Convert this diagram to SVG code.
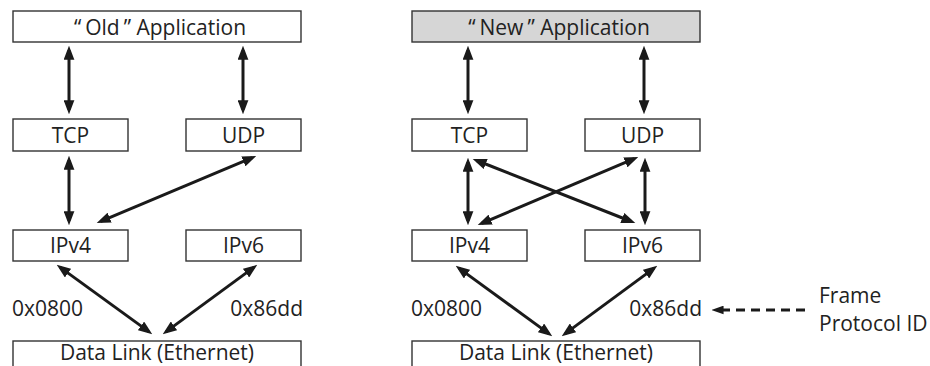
<svg xmlns="http://www.w3.org/2000/svg" width="930" height="366" viewBox="0 0 930 366">
<defs>
<style>
.box{fill:#fff;stroke:#333;stroke-width:1.4}
.gray{fill:#d6d6d6}
.t{font-family:"Open Sans","Liberation Sans",sans-serif;font-size:21px;fill:#222}
.c{text-anchor:middle}
.e{text-anchor:end}
.ln{stroke:#1a1a1a;stroke-width:3;fill:none;marker-start:url(#ah);marker-end:url(#ah)}
.dash{stroke:#1a1a1a;stroke-width:3;fill:none;stroke-dasharray:9 6;marker-end:url(#ah2)}
</style>
<marker id="ah" markerUnits="userSpaceOnUse" markerWidth="14" markerHeight="11" refX="9" refY="5" orient="auto-start-reverse" viewBox="0 0 13 10">
<path d="M0,0 L13,5 L0,10 z" fill="#1a1a1a"/>
</marker>
<marker id="ah2" markerUnits="userSpaceOnUse" markerWidth="12" markerHeight="9" refX="6" refY="4" orient="auto" viewBox="0 0 11 8">
<path d="M0,0 L11,4 L0,8 z" fill="#1a1a1a"/>
</marker>
</defs>
<rect width="930" height="366" fill="#fff"/>

<g id="old-app"><rect class="box" x="13" y="11" width="288" height="31"/><text class="t c" x="160" y="35">“<tspan dx="4">Old</tspan><tspan dx="4">”</tspan> Application</text></g>
<g id="old-tcp"><rect class="box" x="13" y="119" width="115" height="32"/><text class="t c" x="70.5" y="143">TCP</text></g>
<g id="old-udp"><rect class="box" x="186" y="119" width="115" height="32"/><text class="t c" x="243.5" y="143">UDP</text></g>
<g id="old-ipv4"><rect class="box" x="13" y="230" width="115" height="31"/><text class="t c" x="70.5" y="253">IPv4</text></g>
<g id="old-ipv6"><rect class="box" x="186" y="230" width="115" height="31"/><text class="t c" x="243.5" y="253">IPv6</text></g>
<g id="old-dl"><rect class="box" x="13" y="341" width="288" height="40"/><text class="t c" x="157" y="360">Data Link (Ethernet)</text></g>

<g id="new-app"><rect class="box gray" x="412" y="11" width="288" height="31"/><text class="t c" x="559" y="35">“<tspan dx="4">New</tspan><tspan dx="4">”</tspan> Application</text></g>
<g id="new-tcp"><rect class="box" x="412" y="119" width="115" height="32"/><text class="t c" x="469.5" y="143">TCP</text></g>
<g id="new-udp"><rect class="box" x="585" y="119" width="115" height="32"/><text class="t c" x="642.5" y="143">UDP</text></g>
<g id="new-ipv4"><rect class="box" x="412" y="230" width="115" height="31"/><text class="t c" x="469.5" y="253">IPv4</text></g>
<g id="new-ipv6"><rect class="box" x="585" y="230" width="115" height="31"/><text class="t c" x="642.5" y="253">IPv6</text></g>
<g id="new-dl"><rect class="box" x="412" y="341" width="288" height="40"/><text class="t c" x="556" y="360">Data Link (Ethernet)</text></g>

<g id="labels">
<text class="t" x="12" y="316">0x0800</text>
<text class="t e" x="303" y="316">0x86dd</text>
<text class="t" x="411" y="316">0x0800</text>
<text class="t e" x="702" y="316">0x86dd</text>
<text class="t" x="819" y="303">Frame</text>
<text class="t" x="819" y="331">Protocol ID</text>
</g>

<g id="connectors">
<line class="ln" x1="69" y1="50" x2="69" y2="110"/>
<line class="ln" x1="243" y1="50" x2="243" y2="110"/>
<line class="ln" x1="69" y1="160" x2="69" y2="221"/>
<line class="ln" x1="252.3" y1="157.6" x2="100.7" y2="221.4"/>
<line class="ln" x1="60.2" y1="267.4" x2="148.8" y2="331.6"/>
<line class="ln" x1="253.8" y1="267.4" x2="166.2" y2="331.6"/>

<line class="ln" x1="468" y1="50" x2="468" y2="110"/>
<line class="ln" x1="644" y1="50" x2="644" y2="110"/>
<line class="ln" x1="468" y1="162" x2="468" y2="221"/>
<line class="ln" x1="645" y1="162" x2="645" y2="221"/>
<line class="ln" x1="476.7" y1="160.5" x2="631.3" y2="221.5"/>
<line class="ln" x1="634.3" y1="158.6" x2="481.7" y2="223.4"/>
<line class="ln" x1="459.2" y1="268.4" x2="548.8" y2="333.6"/>
<line class="ln" x1="653.8" y1="268.4" x2="565.2" y2="333.6"/>

<line class="dash" x1="805" y1="310" x2="717" y2="310"/>
</g>
</svg>
